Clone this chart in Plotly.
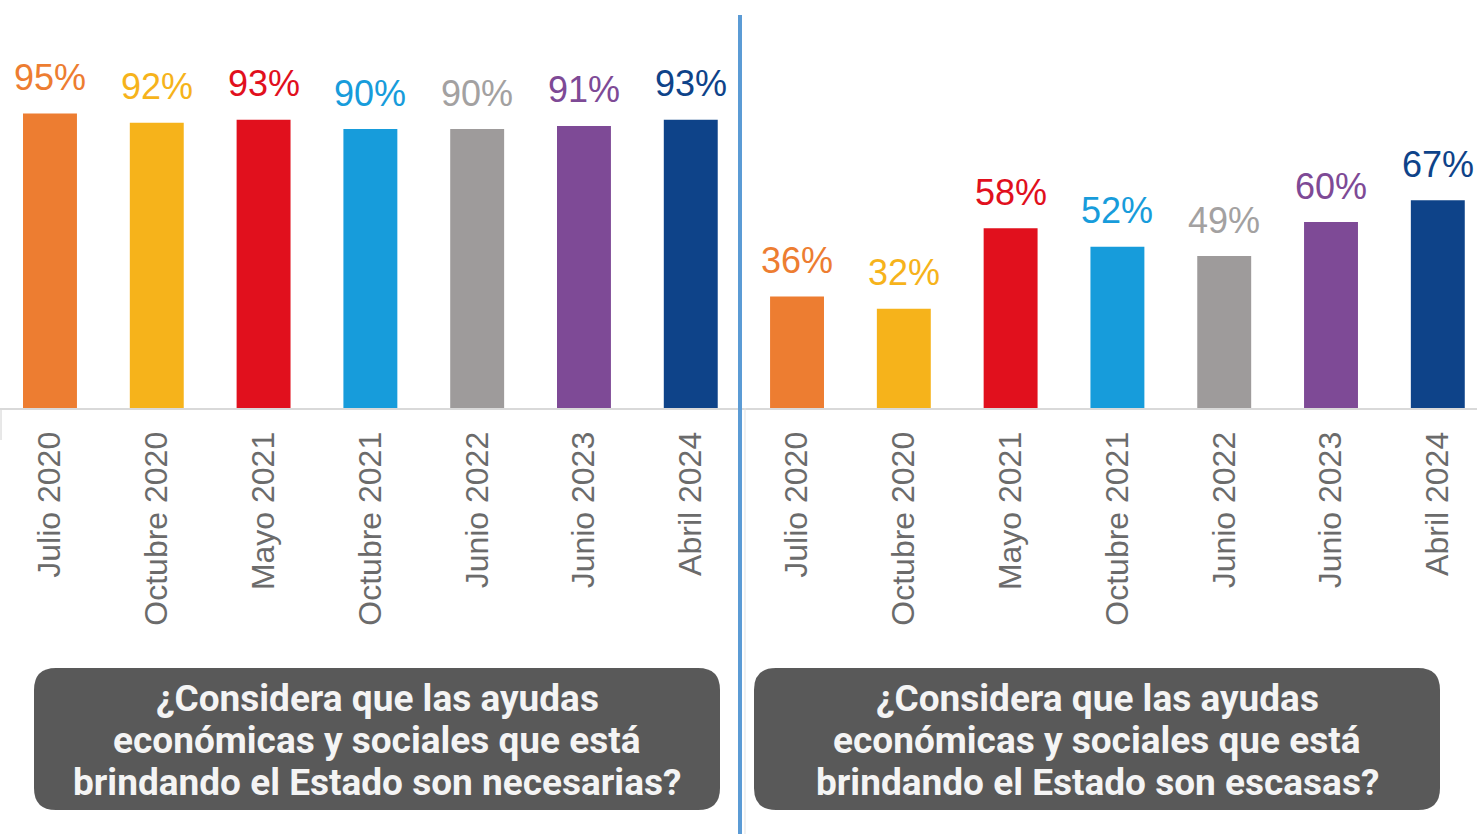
import plotly.graph_objects as go

W, H = 1477, 834

categories = ["Julio 2020", "Octubre 2020", "Mayo 2021", "Octubre 2021",
              "Junio 2022", "Junio 2023", "Abril 2024"]
necesarias = [95, 92, 93, 90, 90, 91, 93]
escasas = [36, 32, 58, 52, 49, 60, 67]
bar_colors = ["#ED7D31", "#F6B31B", "#E1101D", "#179CDB", "#9E9B9B", "#7E4A96", "#0E4389"]
label_colors = ["#ED7D31", "#F6B31B", "#E1101D", "#179CDB", "#A3A1A1", "#7E4A96", "#0E4389"]
question_left = ["¿Considera que las ayudas", "económicas y sociales que está",
                 "brindando el Estado son necesarias?"]
question_right = ["¿Considera que las ayudas", "económicas y sociales que está",
                  "brindando el Estado son escasas?"]

fig = go.Figure()
fig.add_trace(go.Bar(x=categories, y=necesarias, marker=dict(color=bar_colors, line=dict(width=0)),
                     xaxis="x", yaxis="y", hoverinfo="skip"))
fig.add_trace(go.Bar(x=categories, y=escasas, marker=dict(color=bar_colors, line=dict(width=0)),
                     xaxis="x2", yaxis="y2", hoverinfo="skip"))

ann = []
for xa, ya, vals in (("x", "y", necesarias), ("x2", "y2", escasas)):
    for c, v, col in zip(categories, vals, label_colors):
        ann.append(dict(x=c, y=v, xref=xa, yref=ya, text=f"{v}%", showarrow=False,
                        xanchor="center", yanchor="middle", yshift=36,
                        font=dict(family="Liberation Sans, Arial", size=36, color=col)))

def px(x):
    return x / W

def py(y):
    return 1 - y / H

def rounded(x0, y0, x1, y1, r):
    rx, ry = r / W, r / H
    X0, X1 = px(x0), px(x1)
    Y0, Y1 = py(y0), py(y1)  # Y0 top, Y1 bottom
    return (f"M {X0+rx} {Y0} L {X1-rx} {Y0} Q {X1} {Y0} {X1} {Y0-ry} "
            f"L {X1} {Y1+ry} Q {X1} {Y1} {X1-rx} {Y1} "
            f"L {X0+rx} {Y1} Q {X0} {Y1} {X0} {Y1+ry} "
            f"L {X0} {Y0-ry} Q {X0} {Y0} {X0+rx} {Y0} Z")

shapes = [
    dict(type="path", xref="paper", yref="paper", path=rounded(34, 668, 720, 810, 22),
         fillcolor="#595959", line=dict(width=0), layer="below"),
    dict(type="path", xref="paper", yref="paper", path=rounded(754, 668, 1440, 810, 22),
         fillcolor="#595959", line=dict(width=0), layer="below"),
    dict(type="line", xref="paper", yref="paper", x0=px(745), x1=px(745), y0=py(408), y1=0,
         line=dict(color="#e3e3e3", width=1)),
    dict(type="line", xref="paper", yref="paper", x0=px(1), x1=px(1), y0=py(410), y1=py(440),
         line=dict(color="#d0d0d0", width=1)),
    dict(type="line", xref="paper", yref="paper", x0=px(740), x1=px(740), y0=py(15), y1=0,
         line=dict(color="#5B9BD5", width=4)),
]

line_y = [698, 740, 782]
for xc, lines in ((377, question_left), (1097, question_right)):
    for ly, txt in zip(line_y, lines):
        ann.append(dict(x=px(xc), y=py(ly), xref="paper", yref="paper", text=txt,
                        showarrow=False, align="center", xanchor="center", yanchor="middle",
                        font=dict(family="Roboto", size=37, color="#f4f4f4", weight="bold")))

split = 738.5 / W
ydom = [py(408), 1]
yr = [0, 408 / 3.1]
xcommon = dict(type="category", showline=True, linecolor="#d9d9d9", linewidth=2,
               ticks="outside", ticklen=9, tickcolor="rgba(0,0,0,0)", tickangle=-90,
               tickfont=dict(family="Liberation Sans, Arial", size=32, color="#6b6b6b"),
               showgrid=False, zeroline=False, fixedrange=True)
ycommon = dict(range=yr, domain=ydom, visible=False, showgrid=False, zeroline=False, fixedrange=True)

fig.update_layout(
    width=W, height=H, margin=dict(l=0, r=0, t=0, b=0),
    paper_bgcolor="white", plot_bgcolor="white", showlegend=False, bargap=0.495,
    xaxis=dict(domain=[0, split], range=[-0.468, 6.447], anchor="y", **xcommon),
    xaxis2=dict(domain=[split, 1], range=[-0.548, 6.367], anchor="y2", **xcommon),
    yaxis=dict(anchor="x", **ycommon),
    yaxis2=dict(anchor="x2", **ycommon),
    annotations=ann, shapes=shapes,
)

fig.write_html("out.html", config={"displayModeBar": False},
               post_script="document.body.style.margin='0';document.body.style.overflow='hidden';")
